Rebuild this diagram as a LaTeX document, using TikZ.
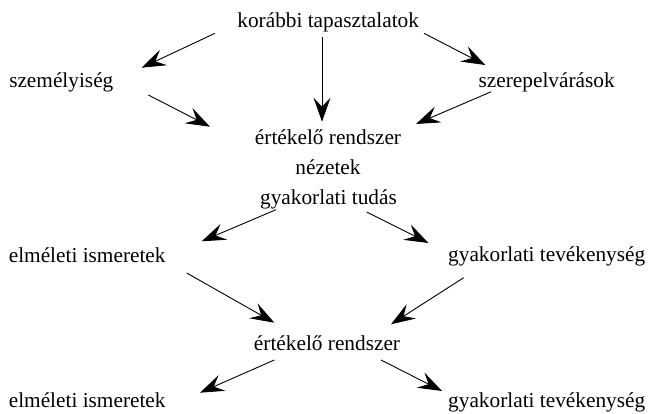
\documentclass[tikz,border=0pt]{standalone}
\usepackage{fontspec}
\setmainfont{Liberation Serif}
\newfontfamily\timesfont{Liberation Serif}
\usetikzlibrary{arrows.meta,calc}

\tikzset{
  lbl/.style={anchor=base, inner sep=0pt, font=\timesfont\fontsize{21.3pt}{30pt}\selectfont},
  arr/.style={line width=0.9pt, -{Stealth[length=24pt, width=17pt, inset=9pt]}}
}

\begin{document}
\begin{tikzpicture}[x=1pt, y=1pt]
  \useasboundingbox (0,0) rectangle (648,414);

  % text nodes (positioned by baseline)
  \node[lbl] (k)   at (328.2,386.7) {korábbi tapasztalatok};
  \node[lbl] (s)   at (61.3,326)    {személyiség};
  \node[lbl] (r)   at (546.7,326.5) {szerepelvárások};
  \node[lbl] (e1)  at (328,269)     {értékelő rendszer};
  \node[lbl] (n)   at (328,239)     {nézetek};
  \node[lbl] (g)   at (328.5,209)   {gyakorlati tudás};
  \node[lbl] (el1) at (87.2,151)    {elméleti ismeretek};
  \node[lbl] (gt1) at (546.7,152.5) {gyakorlati tevékenység};
  \node[lbl] (e2)  at (327,63)      {értékelő rendszer};
  \node[lbl] (el2) at (87.2,6.3)    {elméleti ismeretek};
  \node[lbl] (gt2) at (546.7,6.3)   {gyakorlati tevékenység};

  % upper part
  \draw[arr] ($(k.base)+(-113.2,-6)$) -- ($(s.base)+(80.4,20.3)$);
  \draw[arr] ($(k.base)+(-6.2,-10)$)  -- ($(e1.base)+(-6,23.3)$);
  \draw[arr] ($(k.base)+(95.8,-6)$)   -- ($(r.base)+(-61.4,22.5)$);
  \draw[arr] ($(s.base)+(87,-7)$)     -- ($(e1.base)+(-118,18.3)$);
  \draw[arr] ($(r.base)+(-55.4,-4.2)$) -- ($(e1.base)+(88,21)$);

  % middle part
  \draw[arr] ($(g.base)+(-52.5,-4.7)$) -- ($(el1.base)+(114.5,21.7)$);
  \draw[arr] ($(g.base)+(38.2,-7)$)    -- ($(gt1.base)+(-118.2,18.5)$);

  % lower part
  \draw[arr] ($(el1.base)+(99.5,-10)$) -- ($(e2.base)+(-52.7,28.3)$);
  \draw[arr] ($(gt1.base)+(-83,-16.2)$) -- ($(e2.base)+(64,26.7)$);
  \draw[arr] ($(e2.base)+(-52.7,-9)$)  -- ($(el2.base)+(112.8,15)$);
  \draw[arr] ($(e2.base)+(54,-9)$)     -- ($(gt2.base)+(-104.7,16.7)$);
\end{tikzpicture}
\end{document}
